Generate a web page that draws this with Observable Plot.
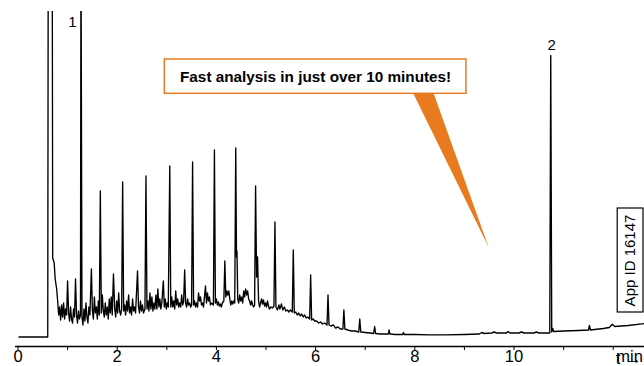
<!DOCTYPE html>
<html><head><meta charset="utf-8">
<script src="https://cdn.jsdelivr.net/npm/d3@7"></script>
<script src="https://cdn.jsdelivr.net/npm/@observablehq/plot@0.6"></script>
<style>html,body{margin:0;padding:0;background:#fff}svg{display:block}</style>
</head><body><div id="chart"></div>
<script>
// retention time (min)
const times = [
0.02,0.60,0.61,0.69,0.70,0.73,0.75,0.78,0.80,0.82,
0.84,0.86,0.88,0.90,0.92,0.94,0.96,0.98,1.00,1.02,
1.04,1.06,1.08,1.10,1.12,1.14,1.16,1.18,1.20,1.22,
1.24,1.26,1.27,1.29,1.31,1.33,1.35,1.37,1.39,1.41,
1.43,1.45,1.48,1.50,1.52,1.54,1.56,1.58,1.60,1.62,
1.64,1.66,1.68,1.70,1.72,1.74,1.76,1.78,1.80,1.82,
1.84,1.86,1.88,1.90,1.925,1.95,1.97,1.99,2.01,2.03,
2.05,2.07,2.09,2.11,2.13,2.15,2.17,2.19,2.21,2.23,
2.25,2.27,2.29,2.31,2.33,2.35,2.37,2.41,2.43,2.45,
2.47,2.49,2.51,2.53,2.56,2.58,2.60,2.62,2.64,2.66,
2.68,2.70,2.72,2.74,2.76,2.78,2.80,2.82,2.84,2.86,
2.88,2.90,2.93,2.95,2.97,2.99,3.01,3.03,3.06,3.08,
3.10,3.12,3.14,3.16,3.18,3.20,3.22,3.24,3.26,3.28,
3.30,3.32,3.34,3.36,3.38,3.40,3.42,3.44,3.46,3.48,
3.50,3.52,3.54,3.56,3.58,3.60,3.62,3.64,3.66,3.68,
3.70,3.72,3.74,3.78,3.80,3.82,3.84,3.86,3.88,3.90,
3.94,3.96,3.98,4.00,4.02,4.04,4.06,4.08,4.10,4.12,
4.15,4.17,4.19,4.21,4.23,4.25,4.27,4.29,4.31,4.33,
4.35,4.37,4.39,4.405,4.415,4.43,4.45,4.47,4.49,4.51,
4.53,4.55,4.57,4.59,4.61,4.63,4.65,4.67,4.69,4.71,
4.73,4.75,4.77,4.79,4.81,4.83,4.85,4.87,4.89,4.91,
4.93,4.95,4.97,4.99,5.01,5.03,5.05,5.07,5.10,5.13,
5.16,5.18,5.20,5.23,5.26,5.28,5.31,5.34,5.37,5.40,
5.43,5.46,5.49,5.53,5.55,5.57,5.60,5.63,5.66,5.69,
5.72,5.75,5.78,5.81,5.84,5.88,5.90,5.92,5.95,5.98,
6.02,6.06,6.10,6.14,6.18,6.23,6.25,6.27,6.31,6.36,
6.40,6.45,6.50,6.55,6.57,6.59,6.65,6.72,6.80,6.87,
6.89,6.91,7.00,7.10,7.17,7.19,7.21,7.30,7.40,7.47,
7.48,7.50,7.60,7.76,7.77,7.79,8.00,8.30,8.60,9.00,
9.30,9.35,9.40,9.55,9.60,9.65,9.85,9.88,9.92,10.10,
10.15,10.20,10.40,10.45,10.50,10.72,10.74,10.76,10.78,10.80,
11.00,11.30,11.50,11.52,11.54,11.80,11.92,11.98,12.03,12.30,
12.63
];
// detector signal (arbitrary units)
const signal = [
0,0,400,400,79,74,58,48,36,22,
30,17,32,20,34,18,28,22,56,24,
16,30,18,14,28,20,58,22,14,26,
18,22,400,20,12,28,16,34,20,14,
30,22,68,26,18,40,24,30,18,36,
22,146,24,42,26,20,34,22,30,18,
38,24,40,22,63,28,20,36,24,44,
26,22,28,155,26,32,22,36,26,42,
24,30,22,38,26,30,24,66,30,24,
36,26,32,24,28,161,28,36,26,44,
28,40,26,34,28,42,28,48,30,38,
28,34,56,30,38,28,34,30,171,30,
40,30,36,28,46,32,38,30,34,30,
42,32,36,67,34,30,38,32,34,30,
32,175,32,36,30,34,30,44,36,40,
32,34,30,51,34,44,36,40,32,34,
32,187,34,38,32,35,31,33,30,34,
36,76,40,46,42,46,38,32,36,33,
36,34,189,80,86,38,34,42,36,40,
34,46,40,48,42,46,38,36,32,36,
32,30,32,151,60,80,36,30,34,38,
33,37,31,34,30,36,31,28,30,29,
31,115,30,27,32,28,33,27,30,26,
27,25,27,25,87,24,25,22,24,21,
23,20,22,19,20,18,62,17,18,16,
16,14,15,13,14,12,42,12,11,12,
9,10,8,8,27,8,7,6,6,5,
18,5,4.5,4,3.5,10.5,3.5,3,3,3,
7,3,2.5,2.5,4.5,2.5,2.5,2.2,2.2,2.5,
3,4.5,3.5,4,5,4,4,5.5,4,4,
5,4,4,5,4,4,281.5,5,8.5,5.5,
6,6.5,7,11.5,7,8.5,9.5,12.8,10.5,11.5,
13.5
];
const tickValues = [0,1,2,3,4,5,6,7,8,9,10,11,12];
const tickLabels = ["0","","2","","4","","6","","8","","10","",""];
const unitLabel = "min";
const peakNames = ["1","2"];
const peakLabelTimes = [1.10, 10.76];
const calloutText = "Fast analysis in just over 10 minutes!";
const appIdText = "App ID 16147";

const rows = times.map((t, i) => ({t, v: signal[i]}));
const orange = "#E87B1F";
const font = "'Liberation Sans', Arial, Helvetica, sans-serif";

const chart = Plot.plot({
  width: 644,
  height: 366,
  marginLeft: 15,
  marginRight: 0,
  marginTop: 11,
  marginBottom: 20,
  style: {fontFamily: font, background: "#fff", color: "#000", overflow: "visible"},
  x: {domain: [-0.05, 12.63], axis: null},
  y: {domain: [-9.5, 325.5], axis: null},
  marks: [
    Plot.line(rows, {x: "t", y: "v", stroke: "#000", strokeWidth: 1.35, clip: true, curve: "linear"}),
    Plot.ruleY([-9.5], {stroke: "#000", strokeWidth: 1.3}),
    Plot.axisX({ticks: tickValues, tickSize: 4, tickPadding: 0, fontSize: 16.5,
      tickFormat: d => tickLabels[tickValues.indexOf(d)]}),
    Plot.text([unitLabel], {x: 12, y: -9.5, text: d => d, textAnchor: "start", lineAnchor: "top", dx: 3, dy: 4, fontSize: 16.5}),
    Plot.text(peakNames, {x: (d, i) => peakLabelTimes[i], y: (d, i) => [314.5, 291.5][i], text: d => d, fontSize: 15}),
    Plot.line([[7.97, 243.5], [8.38, 243.5], [9.49, 89.5]], {fill: orange, stroke: "none"}),
    Plot.rect([calloutText], {x1: 2.96, x2: 9.04, y1: 243.2, y2: 277.5, fill: "#fff", stroke: orange, strokeWidth: 1.5}),
    Plot.text([calloutText], {x: 6.0, y: 260.4, text: d => d, fontWeight: "bold", fontSize: 15.3}),
    Plot.rect([appIdText], {x1: 12.09, x2: 12.61, y1: 24.5, y2: 128.5, fill: "#fff", stroke: "#000", strokeWidth: 1.2}),
    Plot.text([appIdText], {x: 12.35, y: 76.5, text: d => d, rotate: -90, fontSize: 15})
  ]
});
document.getElementById("chart").append(chart);
</script>
</body></html>
